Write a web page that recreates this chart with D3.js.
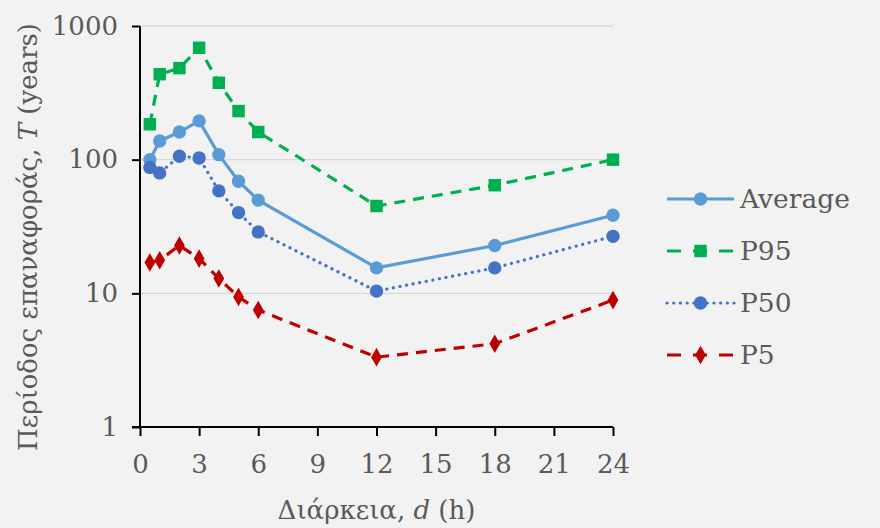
<!DOCTYPE html>
<html>
<head>
<meta charset="utf-8">
<script src="https://cdn.jsdelivr.net/npm/d3@7.9.0/dist/d3.min.js"></script>
<style>
  body { margin: 0; background: #f2f2f2; }
  svg { display: block; }
  text { font-family: "DejaVu Serif", serif; fill: #595959; }
</style>
</head>
<body>
<div id="chart"></div>
<script>
// durations (h)
const durations = [0.5, 1, 2, 3, 4, 5, 6, 12, 18, 24];

// return periods T (years)
const average = [100, 138, 161, 195, 109, 69, 49.8, 15.5, 22.8, 38.4];
const p95 = [184, 436, 484, 687, 376, 231, 161, 45, 64.4, 100];
const p50 = [87.5, 79.6, 106, 103, 58.4, 40.2, 28.8, 10.4, 15.5, 26.7];
const p5 = [17.0, 17.7, 22.8, 18.2, 12.9, 9.4, 7.5, 3.33, 4.2, 8.9];

const xTicks = [0, 3, 6, 9, 12, 15, 18, 21, 24];
const yTicks = [1, 10, 100, 1000];

const series = [
  { name: "Average", values: average, color: "#5b9bd5", dash: null, marker: "circle" },
  { name: "P95", values: p95, color: "#00b050", dash: "11,8", marker: "square" },
  { name: "P50", values: p50, color: "#4472c4", dash: "0.1,6.6", marker: "circle" },
  { name: "P5", values: p5, color: "#c00000", dash: "11,8", marker: "diamond" }
];

const width = 880, height = 528;
const margin = { top: 26, right: 267, bottom: 101, left: 140 };
const plotW = width - margin.left - margin.right;
const plotH = height - margin.top - margin.bottom;

const svg = d3.select("#chart").append("svg")
  .attr("width", width).attr("height", height);

svg.append("rect").attr("width", width).attr("height", height).attr("fill", "#f2f2f2");

const g = svg.append("g").attr("transform", `translate(${margin.left},${margin.top})`);

const x = d3.scaleLinear().domain([0, 24]).range([0, plotW]);
const y = d3.scaleLog().domain([1, 1000]).range([plotH, 0]);

// gridlines
g.selectAll(".grid").data(yTicks.slice(1)).join("line")
  .attr("x1", 0).attr("x2", plotW)
  .attr("y1", d => y(d)).attr("y2", d => y(d))
  .attr("stroke", "#d9d9d9").attr("stroke-width", 1.3);

// axes
const xAxis = g.append("g").attr("transform", `translate(0,${plotH})`)
  .call(d3.axisBottom(x).tickValues(xTicks).tickSize(9).tickPadding(14).tickFormat(d3.format("d")));
const yAxis = g.append("g")
  .call(d3.axisLeft(y).tickValues(yTicks).tickSize(8).tickPadding(14).tickFormat(d3.format("d")));

[xAxis, yAxis].forEach(a => {
  a.attr("font-family", null);
  a.select(".domain").attr("stroke", "#000").attr("stroke-width", 2);
  a.selectAll(".tick line").attr("stroke", "#000").attr("stroke-width", 2);
  a.selectAll(".tick text").attr("font-size", 26).attr("fill", "#595959");
});
xAxis.select(".domain").attr("d", `M-8,0H${plotW}`);
yAxis.select(".domain").attr("d", `M0,0V${plotH}`);
xAxis.selectAll(".tick text").attr("dy", "0.9em");

const symbols = {
  circle: d3.symbol().type(d3.symbolCircle).size(140),
  square: d3.symbol().type(d3.symbolSquare).size(155),
  diamond: d3.symbol().type(d3.symbolDiamond).size(100)
};

const line = d3.line().x(d => x(d[0])).y(d => y(d[1]));

series.forEach(s => {
  const pts = durations.map((d, i) => [d, s.values[i]]);
  g.append("path").datum(pts)
    .attr("fill", "none")
    .attr("stroke", s.color)
    .attr("stroke-width", 3.2)
    .attr("stroke-linecap", s.marker === "circle" && s.dash ? "round" : "butt")
    .attr("stroke-dasharray", s.dash)
    .attr("d", line);
  g.selectAll(null).data(pts).join("path")
    .attr("transform", d => `translate(${x(d[0])},${y(d[1])})`)
    .attr("d", symbols[s.marker])
    .attr("fill", s.color);
});

// legend
const legendY = [199, 251, 303, 355];
const legend = svg.append("g");
series.forEach((s, i) => {
  const row = legend.append("g").attr("transform", `translate(667,${legendY[i]})`);
  row.append("line").attr("x1", 0).attr("x2", 67).attr("y1", 0).attr("y2", 0)
    .attr("stroke", s.color).attr("stroke-width", 3.2)
    .attr("stroke-linecap", s.marker === "circle" && s.dash ? "round" : "butt")
    .attr("stroke-dasharray", s.dash === "11,8" ? "14,12" : s.dash);
  row.append("path").attr("transform", "translate(33.5,0)")
    .attr("d", symbols[s.marker]).attr("fill", s.color);
  row.append("text").attr("x", 73).attr("dy", "0.35em")
    .attr("font-size", 26.5).text(s.name);
});

// axis titles
svg.append("text")
  .attr("x", margin.left + plotW / 2).attr("y", 519)
  .attr("text-anchor", "middle").attr("font-size", 26)
  .call(t => {
    t.append("tspan").text("Διάρκεια, ");
    t.append("tspan").attr("font-style", "italic").text("d");
    t.append("tspan").text(" (h)");
  });

svg.append("text")
  .attr("transform", "translate(37,237) rotate(-90)")
  .attr("text-anchor", "middle").attr("font-size", 26)
  .call(t => {
    t.append("tspan").text("Περίοδος επαναφοράς, ");
    t.append("tspan").attr("font-style", "italic").text("T");
    t.append("tspan").text(" (years)");
  });
</script>
</body>
</html>
